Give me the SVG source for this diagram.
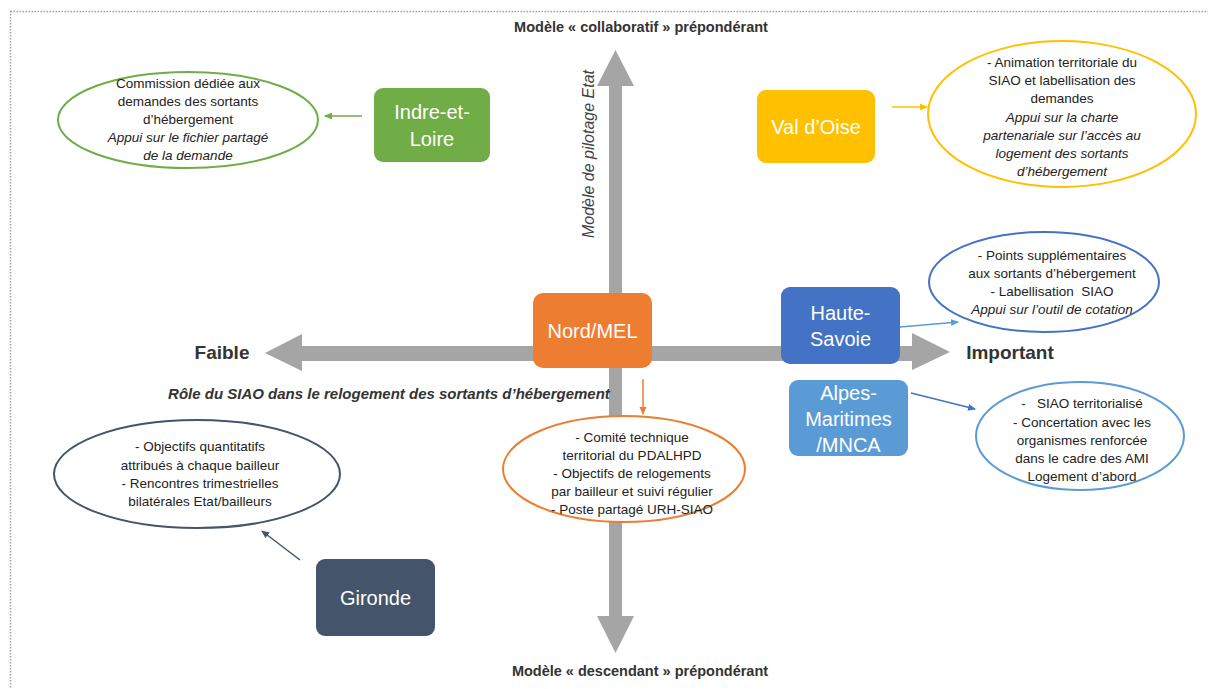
<svg xmlns="http://www.w3.org/2000/svg" width="1208" height="689" viewBox="0 0 1208 689">
<style>
.t{font-family:"Liberation Sans",Arial,sans-serif;fill:#222;font-size:13.5px;text-anchor:middle}
.i{font-style:italic}
.b{font-weight:bold;fill:#333}
.bx{font-family:"Liberation Sans",Arial,sans-serif;fill:#fff;font-size:20px;text-anchor:middle}
.ax{fill:#A5A5A5}
.el{fill:#fff;stroke-width:2}
</style>
<defs>
<marker id="mg" markerWidth="8" markerHeight="8" refX="7" refY="4" orient="auto" markerUnits="userSpaceOnUse"><path d="M0,0.5 L8,4 L0,7.5 Z" fill="#70AD47"/></marker>
<marker id="my" markerWidth="8" markerHeight="8" refX="7" refY="4" orient="auto" markerUnits="userSpaceOnUse"><path d="M0,0.5 L8,4 L0,7.5 Z" fill="#FFC000"/></marker>
<marker id="mlb" markerWidth="8" markerHeight="8" refX="7" refY="4" orient="auto" markerUnits="userSpaceOnUse"><path d="M0,0.5 L8,4 L0,7.5 Z" fill="#5B9BD5"/></marker>
<marker id="mb" markerWidth="8" markerHeight="8" refX="7" refY="4" orient="auto" markerUnits="userSpaceOnUse"><path d="M0,0.5 L8,4 L0,7.5 Z" fill="#4472C4"/></marker>
<marker id="mo" markerWidth="8" markerHeight="8" refX="7" refY="4" orient="auto" markerUnits="userSpaceOnUse"><path d="M0,0.5 L8,4 L0,7.5 Z" fill="#ED7D31"/></marker>
<marker id="md" markerWidth="8" markerHeight="8" refX="7" refY="4" orient="auto" markerUnits="userSpaceOnUse"><path d="M0,0.5 L8,4 L0,7.5 Z" fill="#44546A"/></marker>
</defs>
<rect x="10.5" y="11.5" width="1210" height="700" fill="none" stroke="#A0A0A0" stroke-width="1.5" stroke-dasharray="1.5 1.5"/>

<g id="axes">
<rect class="ax" x="609" y="85" width="13" height="210"/>
<polygon class="ax" points="597,86 615.5,50 634,86"/>
<rect class="ax" x="609" y="366" width="13" height="251"/>
<polygon class="ax" points="597,616 615.5,653 634,616"/>
<rect class="ax" x="300" y="346" width="235" height="15"/>
<polygon class="ax" points="302,334 265,353 302,371"/>
<rect class="ax" x="650" y="346" width="265" height="15"/>
<polygon class="ax" points="912,333 950,352 912,370"/>
</g>

<g id="labels">
<text class="t b" x="641" y="32" style="font-size:14.5px">Modèle « collaboratif » prépondérant</text>
<text class="t b" x="640" y="676" style="font-size:14.5px">Modèle « descendant » prépondérant</text>
<text class="t b" x="222" y="359" style="font-size:19px">Faible</text>
<text class="t b" x="1010" y="359" style="font-size:19px">Important</text>
<text class="t b i" x="389" y="399" style="font-size:15px">Rôle du SIAO dans le relogement des sortants d’hébergement</text>
<text class="t i" transform="translate(594,154) rotate(-90)" style="font-size:16px;fill:#444">Modèle de pilotage Etat</text>
</g>

<g id="connectors" stroke-width="1.5" fill="none">
<line x1="362" y1="116" x2="325" y2="116" stroke="#70AD47" marker-end="url(#mg)"/>
<line x1="892" y1="107" x2="927" y2="107" stroke="#FFC000" marker-end="url(#my)"/>
<line x1="900" y1="327" x2="958" y2="322" stroke="#5B9BD5" marker-end="url(#mlb)"/>
<line x1="911" y1="393" x2="975" y2="409" stroke="#4472C4" marker-end="url(#mb)"/>
<line x1="643" y1="379" x2="643" y2="414" stroke="#ED7D31" marker-end="url(#mo)"/>
<line x1="300" y1="560" x2="262" y2="531" stroke="#44546A" marker-end="url(#md)"/>
</g>

<g id="nord-mel">
<rect x="533" y="293" width="119" height="75" rx="10" fill="#ED7D31"/>
<text class="bx" x="592.5" y="338">Nord/MEL</text>
</g>

<g id="indre-et-loire">
<rect x="374" y="88" width="116" height="74" rx="9" fill="#70AD47"/>
<text class="bx" x="432" y="119">Indre-et-</text>
<text class="bx" x="432" y="146">Loire</text>
</g>

<g id="val-doise">
<rect x="757" y="90" width="118" height="73" rx="9" fill="#FFC000"/>
<text class="bx" x="816" y="134">Val d’Oise</text>
</g>

<g id="haute-savoie">
<rect x="781" y="287" width="119" height="77" rx="9" fill="#4472C4"/>
<text class="bx" x="840.5" y="320">Haute-</text>
<text class="bx" x="840.5" y="346">Savoie</text>
</g>

<g id="alpes-maritimes">
<rect x="789" y="380" width="119" height="76" rx="9" fill="#5B9BD5"/>
<text class="bx" x="848.5" y="400">Alpes-</text>
<text class="bx" x="848.5" y="426">Maritimes</text>
<text class="bx" x="848.5" y="452">/MNCA</text>
</g>

<g id="gironde">
<rect x="316" y="559" width="119" height="77" rx="9" fill="#44546A"/>
<text class="bx" x="375.5" y="605">Gironde</text>
</g>

<g id="ellipse-indre">
<ellipse class="el" cx="188" cy="120" rx="130" ry="48" stroke="#70AD47"/>
<text class="t" x="188" y="88">Commission dédiée aux</text>
<text class="t" x="188" y="106">demandes des sortants</text>
<text class="t" x="188" y="124">d’hébergement</text>
<text class="t i" x="188" y="142">Appui sur le fichier partagé</text>
<text class="t i" x="188" y="160">de la demande</text>
</g>

<g id="ellipse-valdoise">
<ellipse class="el" cx="1062" cy="114" rx="134" ry="73" stroke="#FFC000"/>
<text class="t" x="1062" y="67">- Animation territoriale du</text>
<text class="t" x="1062" y="85">SIAO et labellisation des</text>
<text class="t" x="1062" y="103">demandes</text>
<text class="t i" x="1062" y="122">Appui sur la charte</text>
<text class="t i" x="1062" y="140">partenariale sur l’accès au</text>
<text class="t i" x="1062" y="158">logement des sortants</text>
<text class="t i" x="1062" y="176">d’hébergement</text>
</g>

<g id="ellipse-hautesavoie">
<ellipse class="el" cx="1044" cy="282" rx="115" ry="50" stroke="#4472C4"/>
<text class="t" x="1052" y="260">- Points supplémentaires</text>
<text class="t" x="1052" y="278">aux sortants d’hébergement</text>
<text class="t" x="1052" y="296" xml:space="preserve">- Labellisation  SIAO</text>
<text class="t i" x="1052" y="314">Appui sur l’outil de cotation</text>
</g>

<g id="ellipse-alpes">
<ellipse class="el" cx="1080" cy="436" rx="104" ry="54" stroke="#5B9BD5"/>
<text class="t" x="1082" y="408" xml:space="preserve">-   SIAO territorialisé</text>
<text class="t" x="1082" y="427">- Concertation avec les</text>
<text class="t" x="1082" y="445">organismes renforcée</text>
<text class="t" x="1082" y="463">dans le cadre des AMI</text>
<text class="t" x="1082" y="481">Logement d’abord</text>
</g>

<g id="ellipse-nord">
<ellipse class="el" cx="624" cy="469" rx="121" ry="53" stroke="#ED7D31"/>
<text class="t" x="632" y="442">- Comité technique</text>
<text class="t" x="632" y="460">territorial du PDALHPD</text>
<text class="t" x="632" y="478">- Objectifs de relogements</text>
<text class="t" x="632" y="496">par bailleur et suivi régulier</text>
<text class="t" x="632" y="514">- Poste partagé URH-SIAO</text>
</g>

<g id="ellipse-gironde">
<ellipse class="el" cx="197" cy="474" rx="143" ry="54" stroke="#44546A"/>
<text class="t" x="200" y="451">- Objectifs quantitatifs</text>
<text class="t" x="200" y="470">attribués à chaque bailleur</text>
<text class="t" x="200" y="488">- Rencontres trimestrielles</text>
<text class="t" x="200" y="506">bilatérales Etat/bailleurs</text>
</g>
</svg>
